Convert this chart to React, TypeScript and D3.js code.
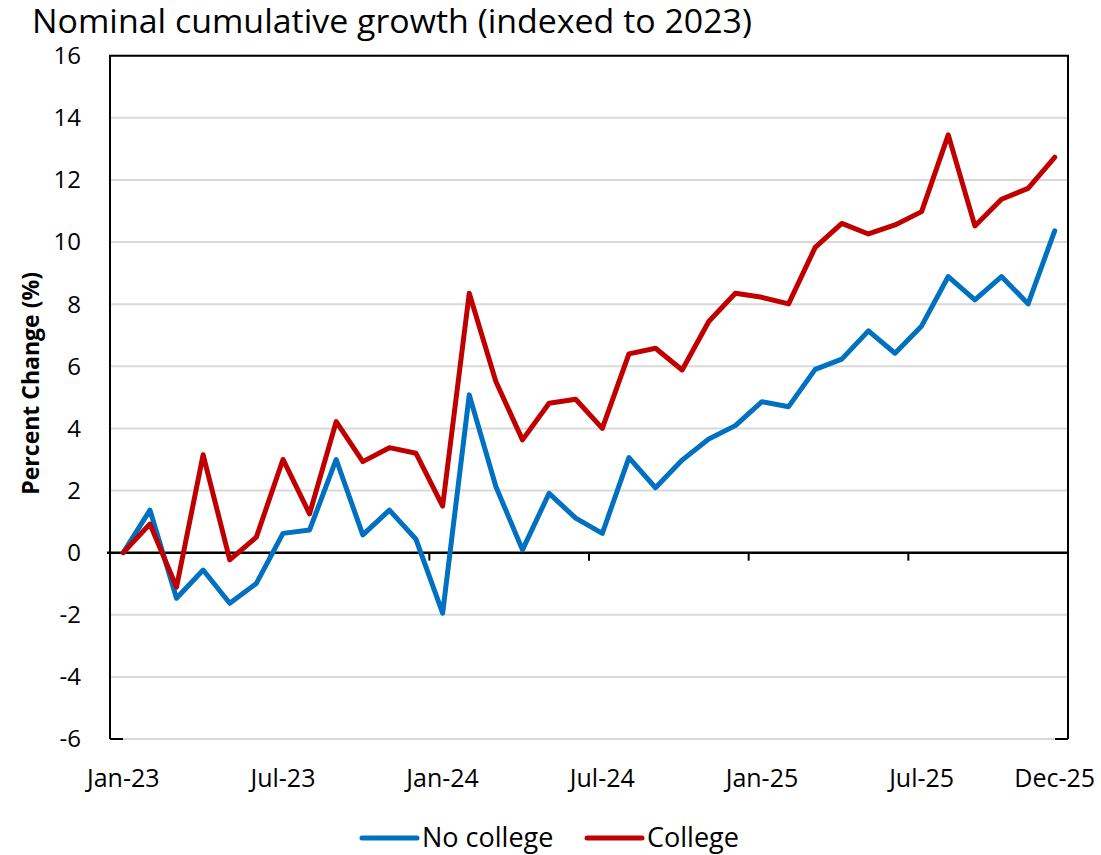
import React from "react";
import * as d3 from "d3";

const months: string[] = [
  "Jan-23","Feb-23","Mar-23","Apr-23","May-23","Jun-23","Jul-23","Aug-23","Sep-23","Oct-23","Nov-23","Dec-23",
  "Jan-24","Feb-24","Mar-24","Apr-24","May-24","Jun-24","Jul-24","Aug-24","Sep-24","Oct-24","Nov-24","Dec-24",
  "Jan-25","Feb-25","Mar-25","Apr-25","May-25","Jun-25","Jul-25","Aug-25","Sep-25","Oct-25","Nov-25","Dec-25",
];

const noCollege: number[] = [
  0, 1.37, -1.47, -0.56, -1.63, -0.99, 0.62, 0.73, 3.0, 0.57, 1.37, 0.43,
  -1.95, 5.08, 2.13, 0.09, 1.91, 1.11, 0.62, 3.06, 2.09, 2.98, 3.66, 4.09,
  4.86, 4.7, 5.9, 6.23, 7.14, 6.42, 7.3, 8.89, 8.14, 8.89, 8.01, 10.36,
];

const college: number[] = [
  0, 0.92, -1.11, 3.15, -0.23, 0.5, 3.0, 1.25, 4.22, 2.93, 3.38, 3.2,
  1.5, 8.35, 5.51, 3.63, 4.81, 4.94, 4.0, 6.4, 6.58, 5.88, 7.44, 8.35,
  8.22, 8.01, 9.83, 10.6, 10.26, 10.55, 10.98, 13.45, 10.52, 11.38, 11.73, 12.73,
];

const yTicks: number[] = [-6, -4, -2, 0, 2, 4, 6, 8, 10, 12, 14, 16];
const xLabels: string[] = ["Jan-23", "Jul-23", "Jan-24", "Jul-24", "Jan-25", "Jul-25", "Dec-25"];
const seriesNames: string[] = ["No college", "College"];
const seriesColors: string[] = ["#0070C0", "#C00000"];

const W = 1101;
const H = 855;
const left = 110;
const right = 1068;
const top = 55.7;
const bottom = 739;
const FONT = "'Open Sans', 'Noto Sans', sans-serif";

export default function App() {
  const x = d3.scaleBand<string>().domain(months).range([left, right]).paddingInner(0).paddingOuter(0);
  const cx = (m: string) => (x(m) as number) + x.bandwidth() / 2;
  const y = d3.scaleLinear().domain([-6, 16]).range([bottom, top]);

  const line = d3
    .line<number>()
    .x((_, i) => cx(months[i]))
    .y((d) => y(d));

  const tickIdx = d3.range(0, 37, 6);
  const tickXs = tickIdx.map((i) => (i < 36 ? (x(months[i]) as number) : right));
  const series = [noCollege, college];
  const y0 = y(0);

  return (
    <svg width={W} height={H} style={{ position: "absolute", left: 0, top: 0, background: "#fff" }}>
      <text x={32} y={33} fontFamily={FONT} fontSize={32} textLength={720} lengthAdjust="spacingAndGlyphs" fill="#000">
        Nominal cumulative growth (indexed to 2023)
      </text>

      {yTicks.filter((t) => t !== 0).map((t) => (
        <line key={"g" + t} x1={left} x2={right} y1={y(t)} y2={y(t)} stroke="#d9d9d9" strokeWidth={2} />
      ))}

      {/* frame */}
      <path
        d={`M${left},${bottom} L${left},${top} L${right},${top} L${right},${bottom}`}
        fill="none"
        stroke="#000"
        strokeWidth={2}
      />
      <line x1={left} x2={left + 13} y1={bottom} y2={bottom} stroke="#000" strokeWidth={2} />
      <line x1={right - 13} x2={right} y1={bottom} y2={bottom} stroke="#000" strokeWidth={2} />

      {/* zero axis */}
      <line x1={left - 3} x2={right} y1={y0} y2={y0} stroke="#000" strokeWidth={2.5} />
      {tickXs.map((tx, i) => (
        <line key={"t" + i} x1={tx} x2={tx} y1={y0} y2={y0 + 8} stroke="#000" strokeWidth={2} />
      ))}

      {yTicks.map((t) => (
        <text
          key={"yl" + t}
          x={81}
          y={y(t)}
          dy="0.35em"
          textAnchor="end"
          fontFamily={FONT}
          fontSize={24}
          fill="#000"
        >
          {t}
        </text>
      ))}

      {xLabels.map((l) => (
        <text key={l} x={cx(l)} y={787} textAnchor="middle" fontFamily={FONT} fontSize={25} fill="#000">
          {l}
        </text>
      ))}

      <text
        transform={`translate(31,${(top + bottom) / 2 - 14}) rotate(-90)`}
        textAnchor="middle"
        dy="0.35em"
        fontFamily={FONT}
        fontSize={23}
        fontWeight="bold"
        fill="#000"
      >
        Percent Change (%)
      </text>

      {series.map((s, k) => (
        <path
          key={seriesNames[k]}
          d={line(s) as string}
          fill="none"
          stroke={seriesColors[k]}
          strokeWidth={5}
          strokeLinejoin="round"
          strokeLinecap="round"
        />
      ))}

      {/* legend */}
      {[362, 587].map((lx, k) => (
        <g key={"lg" + k}>
          <line x1={lx} x2={lx + 55} y1={838} y2={838} stroke={seriesColors[k]} strokeWidth={5} strokeLinecap="round" />
          <text x={lx + 60} y={838} dy="0.35em" fontFamily={FONT} fontSize={27} fill="#000">
            {seriesNames[k]}
          </text>
        </g>
      ))}
    </svg>
  );
}
